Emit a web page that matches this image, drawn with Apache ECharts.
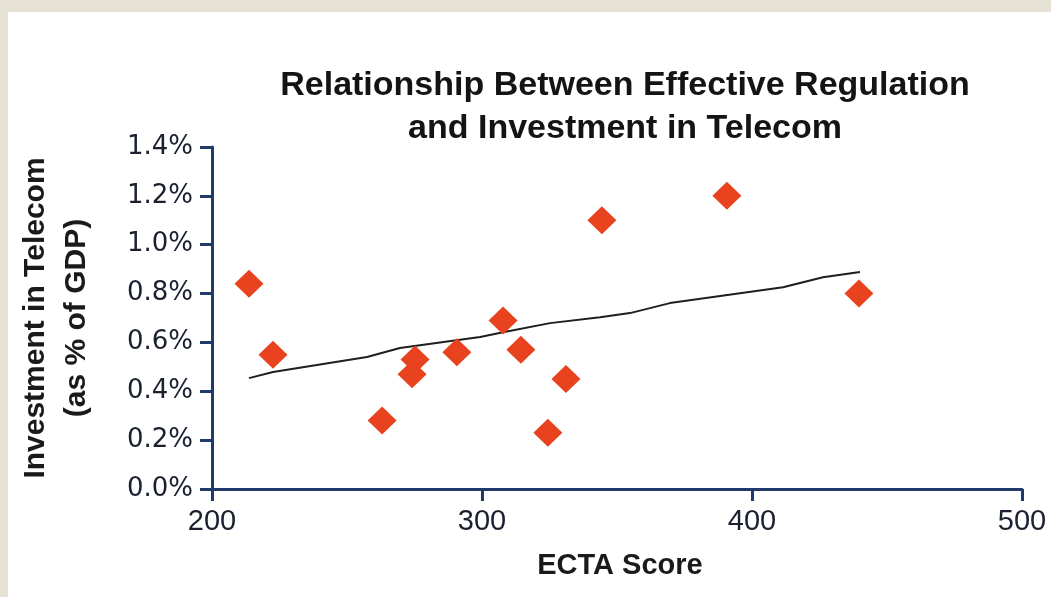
<!DOCTYPE html>
<html>
<head>
<meta charset="utf-8">
<script src="https://cdn.jsdelivr.net/npm/echarts@6/dist/echarts.min.js"></script>
<style>
  html, body { margin: 0; padding: 0; }
  #wrap { position: relative; width: 1051px; height: 597px; background: #e6e3d6; overflow: hidden; }
  #panel { position: absolute; left: 8px; top: 12px; right: 0; bottom: 0; background: #ffffff; }
  #chart { position: absolute; left: 0; top: 0; width: 1051px; height: 597px; }
</style>
</head>
<body>
<div id="wrap"><div id="panel"></div><div id="chart"></div></div>
<script>
// ECTA score (x) and investment in telecom, % of GDP (y)
const ectaScores = [213.7, 222.6, 263.0, 274.1, 275.2, 290.7, 307.8, 314.4, 324.4, 331.1, 344.4, 390.7, 439.6];
const investmentPct = [0.84, 0.55, 0.28, 0.47, 0.53, 0.56, 0.69, 0.57, 0.23, 0.45, 1.10, 1.20, 0.80];

// Trend line as drawn
const trendX = [213.7, 222.6, 257.4, 269.6, 299.3, 307.8, 325.2, 343.7, 354.8, 369.6, 411.5, 426.3, 440.0];
const trendY = [0.454, 0.479, 0.540, 0.577, 0.622, 0.642, 0.679, 0.703, 0.720, 0.761, 0.826, 0.867, 0.888];

const xTicks = [200, 300, 400, 500];
const yTicks = [0.0, 0.2, 0.4, 0.6, 0.8, 1.0, 1.2, 1.4];

const titleText = 'Relationship Between Effective Regulation\nand Investment in Telecom';
const xAxisName = 'ECTA Score';
const yAxisName = 'Investment in Telecom\n(as % of GDP)';

const scatterData = ectaScores.map((x, i) => [x, investmentPct[i]]);
const trendData = trendX.map((x, i) => [x, trendY[i]]);

const axisColor = '#1f3a6b';
const labelColor = '#1a2030';

const chart = echarts.init(document.getElementById('chart'), null, { renderer: 'canvas' });
chart.setOption({
  backgroundColor: 'transparent',
  animation: false,
  title: {
    text: titleText,
    left: 620,
    top: 59,
    textAlign: 'center',
    textStyle: {
      fontFamily: 'Liberation Sans, Arial, sans-serif',
      fontWeight: 'bold',
      fontSize: 34,
      lineHeight: 43,
      color: '#141414'
    }
  },
  grid: { left: 212, right: 29, top: 147, bottom: 108, containLabel: false },
  xAxis: {
    type: 'value',
    min: xTicks[0],
    max: xTicks[xTicks.length - 1],
    interval: xTicks[1] - xTicks[0],
    name: xAxisName,
    nameLocation: 'middle',
    nameGap: 62,
    nameTextStyle: {
      fontFamily: 'Liberation Sans, Arial, sans-serif',
      fontWeight: 'bold',
      fontSize: 29,
      color: '#1a1a1a',
      padding: [0, 0, 0, 6]
    },
    axisLine: { show: true, onZero: false, lineStyle: { color: axisColor, width: 3 } },
    axisTick: { show: true, length: 12, lineStyle: { color: axisColor, width: 3 } },
    axisLabel: {
      margin: 18,
      fontFamily: 'Liberation Sans, Arial, sans-serif',
      fontSize: 29,
      color: labelColor
    },
    splitLine: { show: false }
  },
  yAxis: {
    type: 'value',
    min: yTicks[0],
    max: yTicks[yTicks.length - 1],
    interval: 0.2,
    name: yAxisName,
    nameLocation: 'middle',
    nameRotate: 90,
    nameGap: 115,
    nameTextStyle: {
      fontFamily: 'Liberation Sans, Arial, sans-serif',
      fontWeight: 'bold',
      fontSize: 30,
      lineHeight: 41,
      color: '#1a1a1a',
      align: 'center'
    },
    axisLine: { show: true, onZero: false, lineStyle: { color: axisColor, width: 3 } },
    axisTick: { show: true, length: 12, lineStyle: { color: axisColor, width: 3 } },
    axisLabel: {
      margin: 19,
      fontFamily: 'DejaVu Sans, sans-serif',
      fontSize: 26,
      color: labelColor,
      formatter: v => v.toFixed(1) + '%'
    },
    splitLine: { show: false }
  },
  series: [
    {
      type: 'line',
      data: trendData,
      showSymbol: false,
      symbol: 'none',
      lineStyle: { color: '#1e1e1e', width: 2 },
      z: 2
    },
    {
      type: 'scatter',
      data: scatterData,
      symbol: 'diamond',
      symbolSize: [29, 28],
      itemStyle: { color: '#e8421e', opacity: 1 },
      z: 3
    }
  ]
});
</script>
</body>
</html>
